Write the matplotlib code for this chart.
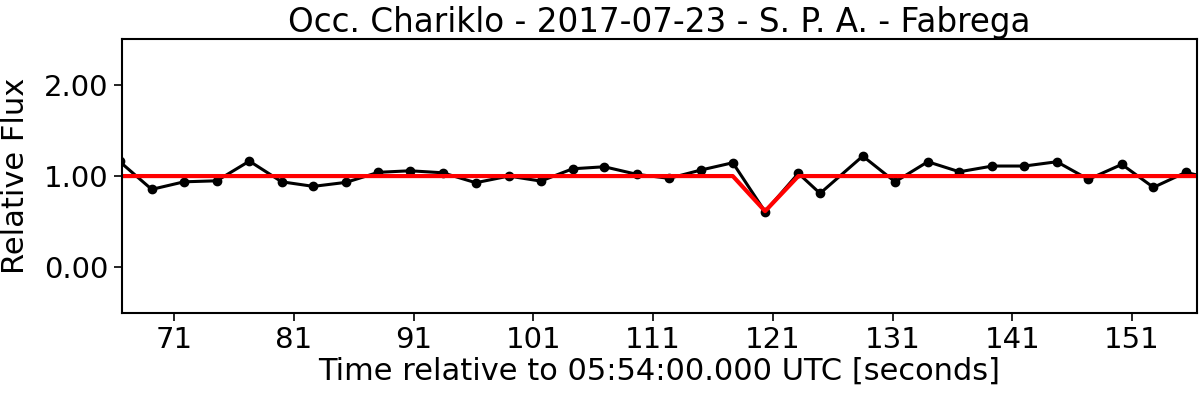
import matplotlib
matplotlib.use("Agg")
import matplotlib.pyplot as plt

# Observed light curve (seconds after 05:54:00 UTC, normalised flux)
time = [66.42, 69.11, 71.81, 74.54, 77.27, 79.97, 82.61, 85.34, 88.04, 90.69,
        93.42, 96.18, 98.94, 101.61, 104.28, 106.92, 109.63, 112.33, 114.98,
        117.65, 120.35, 123.13, 124.94, 128.51, 131.21, 133.94, 136.58,
        139.34, 142.01, 144.72, 147.36, 150.15, 152.79, 155.49, 158.2]
flux = [1.16, 0.854, 0.937, 0.948, 1.164, 0.937, 0.887, 0.931, 1.041, 1.058,
        1.036, 0.927, 1.00, 0.945, 1.08, 1.102, 1.019, 0.975, 1.066,
        1.146, 0.609, 1.03, 0.81, 1.219, 0.937, 1.157, 1.047,
        1.11, 1.11, 1.157, 0.964, 1.128, 0.876, 1.041, 0.956]

# Square-well model
model_time = [66.42, 117.65, 120.35, 123.13, 158.2]
model_flux = [1.0, 1.0, 0.615, 1.0, 1.0]

xticks = [71, 81, 91, 101, 111, 121, 131, 141, 151]
yticks = [0.0, 1.0, 2.0]

fig, ax = plt.subplots(figsize=(12, 3.93), dpi=100)
fig.subplots_adjust(left=0.1014, right=0.9972, top=0.90, bottom=0.204)

ax.plot(time, flux, 'k-', lw=2.2, marker='o', ms=6)
ax.plot(model_time, model_flux, 'r-', lw=3)

ax.set_xlim(66.6, 156.4)
ax.set_ylim(-0.5, 2.5)
ax.set_xticks(xticks)
ax.set_yticks(yticks)
ax.set_yticklabels(['%.2f' % v for v in yticks])
ax.tick_params(labelsize=21, length=6, width=1.2)
for s in ax.spines.values():
    s.set_linewidth(1.5)

ax.set_xlabel('Time relative to 05:54:00.000 UTC [seconds]', fontsize=22, labelpad=2)
ax.set_ylabel('Relative Flux', fontsize=22)
ax.yaxis.set_label_coords(-0.085, 0.5)
ax.set_title('Occ. Chariklo - 2017-07-23 - S. P. A. - Fabrega', fontsize=23.5, pad=4)

fig.savefig('out.png', dpi=100)
